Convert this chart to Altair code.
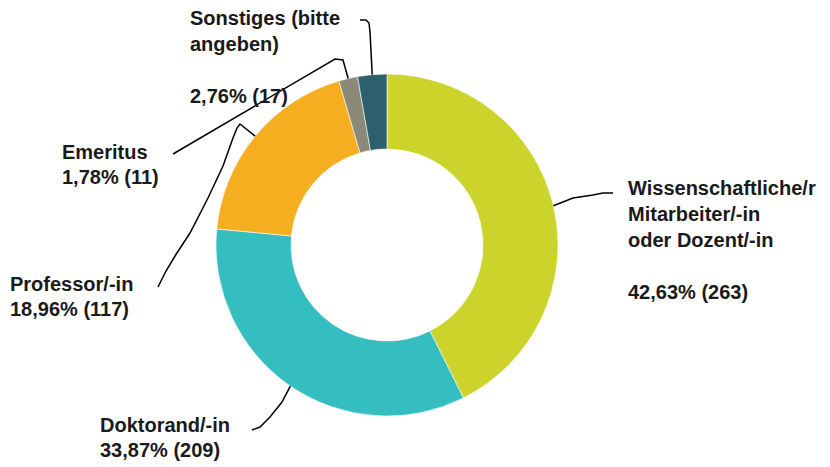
import math
import altair as alt
import pandas as pd

# ---- data ----
categories = [
    "Wissenschaftliche/r Mitarbeiter/-in oder Dozent/-in",
    "Doktorand/-in",
    "Professor/-in",
    "Emeritus",
    "Sonstiges (bitte angeben)",
]
counts = [263, 209, 117, 11, 17]
label_lines = [
    ["Wissenschaftliche/r", "Mitarbeiter/-in", "oder Dozent/-in", ""],
    ["Doktorand/-in"],
    ["Professor/-in"],
    ["Emeritus"],
    ["Sonstiges (bitte", "angeben)", ""],
]
colors = ["#CCD42B", "#35BEC0", "#F6AE21", "#8B8A78", "#2D5F6D"]

# ---- layout (chart pixel coords, page minus 8px margin) ----
W, H = 814, 459
CX, CY = 379, 237
R_OUT, R_IN = 171, 96
FONT = 20
LINE_H = 25
label_pos = [(620, 181), (92, 418), (2, 277), (54, 145), (182, 11)]
# leader waypoints from label end towards the slice (slice point appended from data)
leader_way = [
    [(605, 185), (595, 185), (585, 187), (565, 190)],
    [(244, 422), (252, 419), (262, 409), (274, 394)],
    [(150, 279), (158, 263), (167, 248), (182, 225), (200, 190), (215, 158), (225, 130), (229, 120), (232, 116)],
    [(165, 146), (327, 51), (335, 52)],
    [(352, 12), (358, 12), (361, 15), (362, 24)],
]

total = sum(counts)
df = pd.DataFrame({
    "cat": categories,
    "count": counts,
    "order": list(range(len(categories))),
})

arc = alt.Chart(df).mark_arc(
    outerRadius=R_OUT, innerRadius=R_IN, stroke="#ffffff", strokeWidth=0.6
).encode(
    theta=alt.Theta("count:Q", stack=True),
    order=alt.Order("order:Q"),
    color=alt.Color("cat:N", scale=alt.Scale(domain=categories, range=colors), legend=None),
    x=alt.value(CX),
    y=alt.value(CY),
)

# leader lines: start at slice mid-angle on outer radius
rows = []
cum = 0
for i, c in enumerate(counts):
    mid = (cum + c / 2) / total * 2 * math.pi
    cum += c
    sx = CX + R_OUT * math.sin(mid)
    sy = CY - R_OUT * math.cos(mid)
    pts = leader_way[i] + [(sx, sy)]
    for j, (px, py) in enumerate(pts):
        rows.append({"cat": categories[i], "k": j, "px": px, "py": py})
ldf = pd.DataFrame(rows)

xs = alt.Scale(domain=[0, W], range=[0, W])
ys = alt.Scale(domain=[0, H], range=[0, H])

leaders = alt.Chart(ldf).mark_line(color="#000000", strokeWidth=1.5).encode(
    x=alt.X("px:Q", scale=xs, axis=None),
    y=alt.Y("py:Q", scale=ys, axis=None),
    detail="cat:N",
    order="k:Q",
)

# labels
trow = []
for i, c in enumerate(counts):
    pct = f"{c / total * 100:.2f}".replace(".", ",") + f"% ({c})"
    lines = label_lines[i] + [pct]
    lx, ly = label_pos[i]
    step = 26 if i in (0, 4) else LINE_H
    for j, t in enumerate(lines):
        trow.append({"t": t, "px": lx, "py": ly + j * step})
tdf = pd.DataFrame(trow)

texts = alt.Chart(tdf).mark_text(
    align="left", baseline="middle", font="Liberation Sans", fontSize=FONT,
    fontWeight="bold", color="#1a1a1a"
).encode(
    x=alt.X("px:Q", scale=xs, axis=None),
    y=alt.Y("py:Q", scale=ys, axis=None),
    text="t:N",
)

chart = alt.layer(arc, leaders, texts).properties(
    width=W, height=H, autosize=alt.AutoSizeParams(type="none"), padding=0
).configure_view(stroke=None)

chart.save("out.html", embed_options={"renderer": "svg", "actions": False})
